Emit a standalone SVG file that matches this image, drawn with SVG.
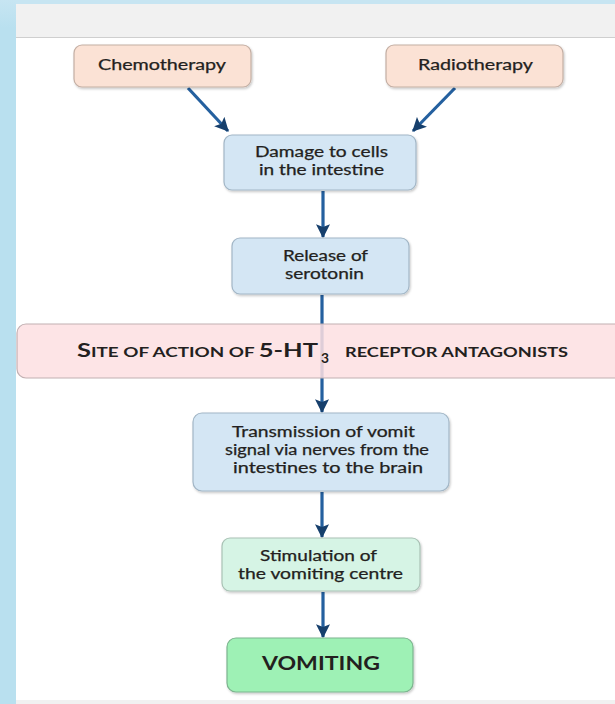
<svg xmlns="http://www.w3.org/2000/svg" width="615" height="704" viewBox="0 0 615 704">
  <defs>
    <style>
      .box { stroke-width: 1.2; filter: url(#shadow); }
      .peach { fill: #fbe2d5; stroke: #c4afa4; }
      .blue { fill: #d4e6f4; stroke: #a2b6c6; }
      .mint { fill: #d6f4e5; stroke: #a9c2b5; }
      .green { fill: #9ef1b5; stroke: #7db58f; }
      .band { fill: #fde0e2; fill-opacity: 0.86; stroke: #c2b0b2; stroke-width: 1.2; }
      .lbl { font-family: Lato, "Open Sans", "DejaVu Sans", sans-serif; font-size: 14.5px; fill: #231f20; stroke: #231f20; stroke-width: 0.25; }
      .big { font-family: Lato, "Open Sans", "DejaVu Sans", sans-serif; font-weight: 700; fill: #231f20; }
      .conn { stroke: #24609f; stroke-width: 3.2; fill: none; marker-end: url(#head); }
    </style>
    <filter id="shadow" x="-10%" y="-10%" width="125%" height="130%">
      <feDropShadow dx="1" dy="1.5" stdDeviation="1.2" flood-color="#000" flood-opacity="0.22"/>
    </filter>
    <linearGradient id="sideGrad" x1="0" y1="0" x2="0" y2="1">
      <stop offset="0" stop-color="#c7e5f2"/>
      <stop offset="0.04" stop-color="#b9e0ef"/>
      <stop offset="1" stop-color="#b9e0ef"/>
    </linearGradient>
    <marker id="head" viewBox="0 0 12 12" refX="11" refY="6" markerWidth="14" markerHeight="14" markerUnits="userSpaceOnUse" orient="auto">
      <path d="M0,0 L12,6 L0,12 L2.5,6 z" fill="#163f6c"/>
    </marker>
  </defs>

  <!-- page frame -->
  <rect x="0" y="0" width="615" height="704" fill="#ffffff"/>
  <rect x="0" y="0" width="615" height="5" fill="#c7e5f2"/>
  <rect x="0" y="0" width="16" height="704" fill="url(#sideGrad)"/>
  <rect x="16" y="4" width="599" height="33" fill="#f1f1f1"/>
  <line x1="16" y1="37.5" x2="615" y2="37.5" stroke="#cfcfcf" stroke-width="1"/>
  <rect x="16" y="700" width="599" height="4" fill="#f1f1f1"/>

  <!-- connectors -->
  <g id="connectors">
    <line class="conn" x1="188" y1="88" x2="228" y2="131"/>
    <line class="conn" x1="455" y1="88" x2="413" y2="131"/>
    <line class="conn" x1="323" y1="191" x2="323" y2="237"/>
    <line class="conn" x1="322" y1="295" x2="322" y2="412"/>
    <line class="conn" x1="322" y1="492" x2="322" y2="537"/>
    <line class="conn" x1="323" y1="592" x2="323" y2="637"/>
  </g>

  <g id="chemotherapy">
    <rect class="box peach" x="74" y="45" width="177" height="42" rx="8"/>
    <text class="lbl" x="98" y="70" textLength="128" lengthAdjust="spacingAndGlyphs">Chemotherapy</text>
  </g>

  <g id="radiotherapy">
    <rect class="box peach" x="386" y="45" width="177" height="42" rx="8"/>
    <text class="lbl" x="418" y="70" textLength="115" lengthAdjust="spacingAndGlyphs">Radiotherapy</text>
  </g>

  <g id="damage">
    <rect class="box blue" x="224" y="135" width="192" height="55" rx="8"/>
    <text class="lbl" x="255" y="157" textLength="133" lengthAdjust="spacingAndGlyphs">Damage to cells</text>
    <text class="lbl" x="259" y="175" textLength="125" lengthAdjust="spacingAndGlyphs">in the intestine</text>
  </g>

  <g id="serotonin">
    <rect class="box blue" x="232" y="238" width="177" height="56" rx="8"/>
    <text class="lbl" x="283" y="261" textLength="85" lengthAdjust="spacingAndGlyphs">Release of</text>
    <text class="lbl" x="285" y="279" textLength="79" lengthAdjust="spacingAndGlyphs">serotonin</text>
  </g>

  <g id="site-of-action">
    <rect class="band" x="17" y="324" width="610" height="54" rx="9"/>
    <text class="big" x="77" y="357" textLength="241" lengthAdjust="spacingAndGlyphs"><tspan font-size="19">S</tspan><tspan font-size="14">ITE OF ACTION OF </tspan><tspan font-size="19">5-HT</tspan></text>
    <text class="big" x="321" y="363" font-size="13" textLength="8" lengthAdjust="spacingAndGlyphs">3</text>
    <text class="big" x="345" y="357" font-size="14" textLength="223" lengthAdjust="spacingAndGlyphs">RECEPTOR ANTAGONISTS</text>
  </g>

  <g id="transmission">
    <rect class="box blue" x="193" y="413" width="256" height="78" rx="9"/>
    <text class="lbl" x="232" y="437" textLength="183" lengthAdjust="spacingAndGlyphs">Transmission of vomit</text>
    <text class="lbl" x="225" y="455" textLength="204" lengthAdjust="spacingAndGlyphs">signal via nerves from the</text>
    <text class="lbl" x="233" y="473" textLength="190" lengthAdjust="spacingAndGlyphs">intestines to the brain</text>
  </g>

  <g id="stimulation">
    <rect class="box mint" x="222" y="538" width="198" height="53" rx="8"/>
    <text class="lbl" x="260" y="561" textLength="117" lengthAdjust="spacingAndGlyphs">Stimulation of</text>
    <text class="lbl" x="238" y="579" textLength="165" lengthAdjust="spacingAndGlyphs">the vomiting centre</text>
  </g>

  <g id="vomiting">
    <rect class="box green" x="227" y="638" width="186" height="54" rx="9"/>
    <text class="big" x="262" y="670" font-size="19" textLength="118" lengthAdjust="spacingAndGlyphs">VOMITING</text>
  </g>
</svg>
